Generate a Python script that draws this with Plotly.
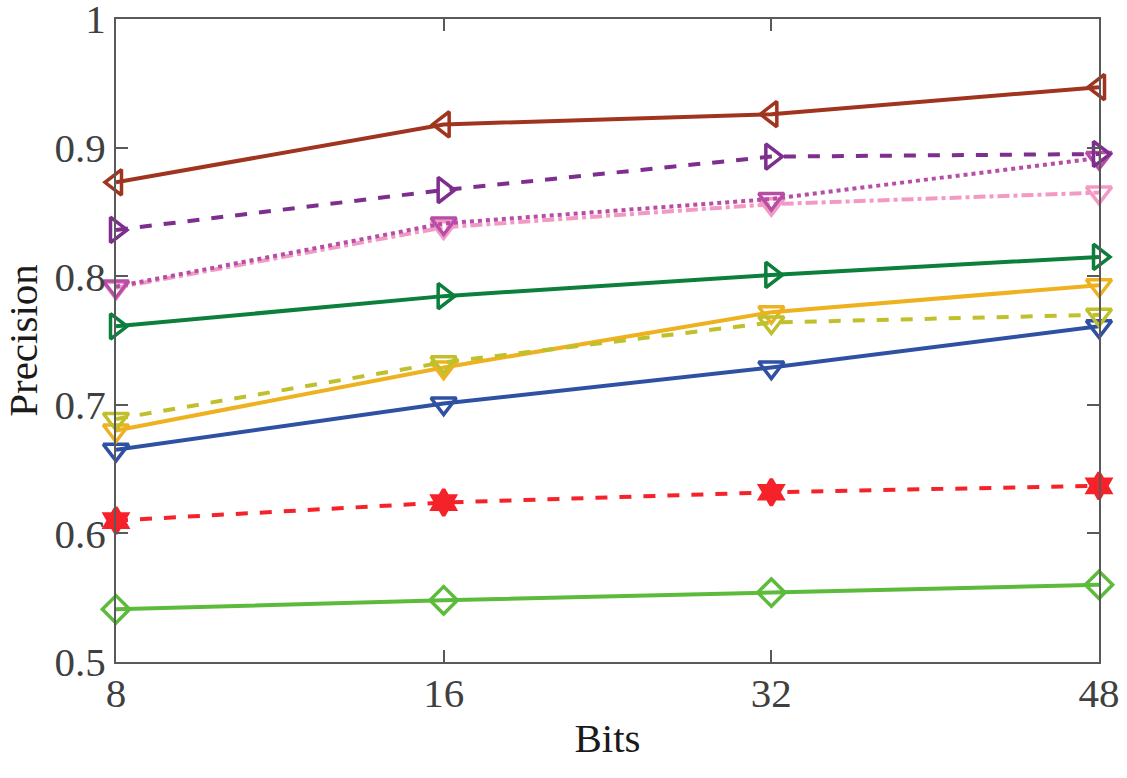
import plotly.graph_objects as go

bits = ["8", "16", "32", "48"]
y_tick_vals = [0.5, 0.6, 0.7, 0.8, 0.9, 1.0]
y_tick_text = ["0.5", "0.6", "0.7", "0.8", "0.9", "1"]

brown = [0.873, 0.918, 0.926, 0.947]
purple = [0.836, 0.867, 0.893, 0.895]
magenta = [0.792, 0.841, 0.860, 0.892]
pink = [0.791, 0.838, 0.856, 0.865]
green = [0.761, 0.7845, 0.801, 0.815]
yellowgreen = [0.689, 0.733, 0.764, 0.770]
orange = [0.680, 0.729, 0.772, 0.793]
blue = [0.665, 0.701, 0.729, 0.761]
red = [0.610, 0.624, 0.632, 0.637]
lightgreen = [0.541, 0.548, 0.554, 0.560]

series = [
    (lightgreen, "#5DBB3B", "solid", "diamond-open", 21),
    (red, "#F5222A", "dash", "hexagram", 20),
    (blue, "#2F50A3", "solid", "triangle-down-open", 22),
    (orange, "#EEB11F", "solid", "triangle-down-open", 22),
    (yellowgreen, "#C0C02C", "dash", "triangle-down-open", 22),
    (green, "#0B7F3B", "solid", "triangle-right-open", 22),
    (pink, "#F39AC4", "dashdot", "triangle-down-open", 22),
    (magenta, "#B84DA6", "dot", "triangle-down-open", 22),
    (purple, "#7E2E8E", "dash", "triangle-right-open", 22),
    (brown, "#A0341F", "solid", "triangle-left-open", 22),
]

fig = go.Figure()
xs = list(range(len(bits)))
for vals, col, dash, sym, sz in series:
    fig.add_trace(go.Scatter(
        x=xs, y=vals, mode="lines+markers",
        line=dict(color=col, width=4, dash=dash),
        marker=dict(symbol=sym, size=sz, color=col, line=dict(color=col, width=3.5)),
        cliponaxis=False, showlegend=False,
    ))

font_family = "Liberation Serif, Times New Roman, serif"
fig.update_layout(
    width=1127, height=778,
    margin=dict(l=116, r=28, t=19, b=116),
    plot_bgcolor="white", paper_bgcolor="white",
    font=dict(family=font_family, color="#404040", size=41),
)
fig.update_xaxes(
    range=[0, 3], tickvals=xs, ticktext=bits, automargin=False,
    showgrid=False, zeroline=False,
    showline=True, linecolor="#595959", linewidth=2, mirror="allticks",
    ticks="inside", ticklen=12, tickcolor="#595959", tickwidth=1.5,
    ticklabeloverflow="allow", ticklabelstandoff=-6,
    tickfont=dict(size=41, color="#404040", family=font_family),
    title=dict(text="Bits", font=dict(size=41, color="#1a1a1a", family=font_family), standoff=8),
)
fig.update_yaxes(
    range=[0.5, 1.0], tickvals=y_tick_vals, ticktext=y_tick_text, automargin=False,
    showgrid=False, zeroline=False,
    showline=True, linecolor="#595959", linewidth=2, mirror="allticks",
    ticks="inside", ticklen=12, tickcolor="#595959", tickwidth=1.5,
    ticklabeloverflow="allow",
    tickfont=dict(size=41, color="#404040", family=font_family),
    title=dict(text="Precision", font=dict(size=41, color="#1a1a1a", family=font_family), standoff=6),
)

fig.write_html("out.html")
